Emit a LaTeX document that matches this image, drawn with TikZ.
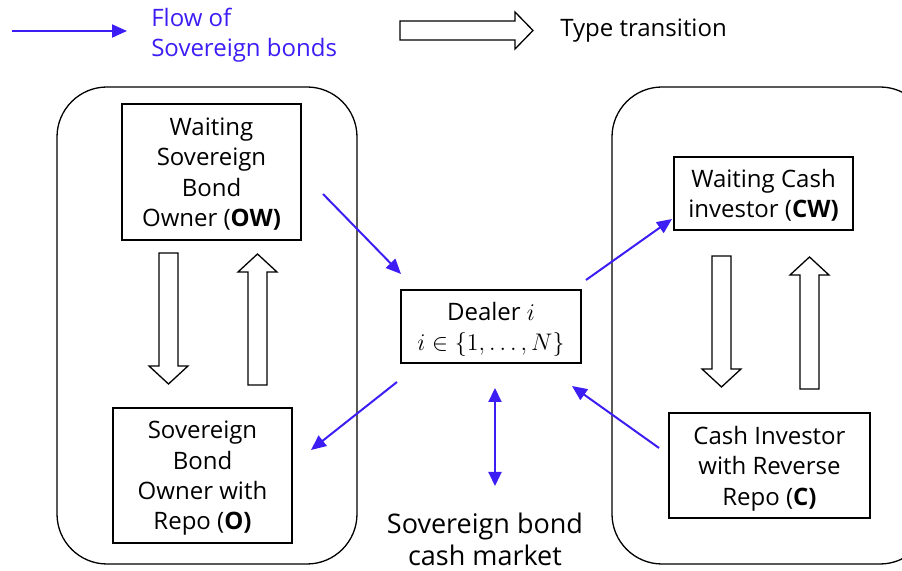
\documentclass[tikz,border=0pt]{standalone}
\usepackage{amsmath}
\usepackage{fontspec}
\setmainfont{Open Sans}
\usetikzlibrary{arrows.meta}
\definecolor{flowblue}{RGB}{60,30,245}

\begin{document}
\begin{tikzpicture}[x=0.5pt,y=-0.5pt,line width=0.65pt,
		font=\fontsize{12}{15.2}\selectfont,
		box/.style={draw,inner sep=0pt,align=center,text depth=0pt},
		flow/.style={draw=flowblue,line width=1pt,-{Triangle[length=7.5pt,width=6.5pt]}},
		twoway/.style={draw=flowblue,line width=1pt,{Triangle[length=7pt,width=6.5pt]}-{Triangle[length=7pt,width=6.5pt]}}]
		\useasboundingbox (0,0) rectangle (902,571);

		\coordinate (leg0) at (12,31);
		\coordinate (leg1) at (127,31);
		\draw[flow] (leg0) -- (leg1);
		\node[anchor=west,align=left,text=flowblue] (legflow) at (144,35) {Flow of\\Sovereign bonds};
		\draw (400,21) -- (515,21) -- (515,12) -- (533,30.5) -- (515,49) -- (515,40) -- (400,40) -- cycle;
		\node[anchor=west] (legtype) at (553,31) {Type transition};

		\draw[rounded corners=25pt] (57,87) rectangle (357,564);
		\begin{scope}
			\clip (0,0) rectangle (902,571);
			\draw[rounded corners=25pt] (612,87) rectangle (930,564);
		\end{scope}

		\node[box,minimum width=89.5pt,minimum height=68pt] (ow) at (211.5,172) {Waiting\\Sovereign\\Bond\\Owner (\textbf{OW)}};
		\node[box,minimum width=89.5pt,minimum height=67.5pt] (o) at (202.5,475.5) {Sovereign\\Bond\\Owner with\\Repo (\textbf{O)}};
		\node[box,minimum width=90pt,minimum height=36.5pt] (dealer) at (491,326.5) {Dealer $i$\\$i \in \{1,\dots,N\}$};
		\node[box,minimum width=89.5pt,minimum height=36.5pt] (cw) at (763.5,193.5) {Waiting Cash\\investor (\textbf{CW)}};
		\node[box,minimum width=100.5pt,minimum height=52.5pt] (c) at (769.5,465.5) {Cash Investor\\with Reverse\\Repo (\textbf{C)}};
		\node[font=\fontsize{13.5}{16}\selectfont,align=center] (market) at (485,539) {Sovereign bond\\cash market};

		\draw (159,253) -- (178,253) -- (178,366) -- (188,366) -- (168.5,384) -- (149,366) -- (159,366) -- cycle;
		\draw (248,385) -- (267,385) -- (267,272) -- (277,272) -- (257.5,254) -- (238,272) -- (248,272) -- cycle;
		\draw (712,256) -- (731,256) -- (731,369) -- (741,369) -- (721.5,387) -- (702,369) -- (712,369) -- cycle;
		\draw (800,389) -- (819,389) -- (819,275) -- (829,275) -- (809.5,257) -- (790,275) -- (800,275) -- cycle;

		\coordinate (ow-out) at (323,194);
		\coordinate (dealer-in) at (401,274);
		\coordinate (dealer-out) at (586,280);
		\coordinate (cw-in) at (672,219);
		\coordinate (dealer-lend) at (397,382);
		\coordinate (o-in) at (311,450);
		\coordinate (c-out) at (659,448);
		\coordinate (dealer-back) at (572,386);
		\coordinate (dealer-mkt) at (495,388);
		\coordinate (mkt-top) at (495,486);

		\draw[flow] (ow-out) -- (dealer-in);
		\draw[flow] (dealer-out) -- (cw-in);
		\draw[flow] (dealer-lend) -- (o-in);
		\draw[flow] (c-out) -- (dealer-back);
		\draw[twoway] (dealer-mkt) -- (mkt-top);
	\end{tikzpicture}
\end{document}
